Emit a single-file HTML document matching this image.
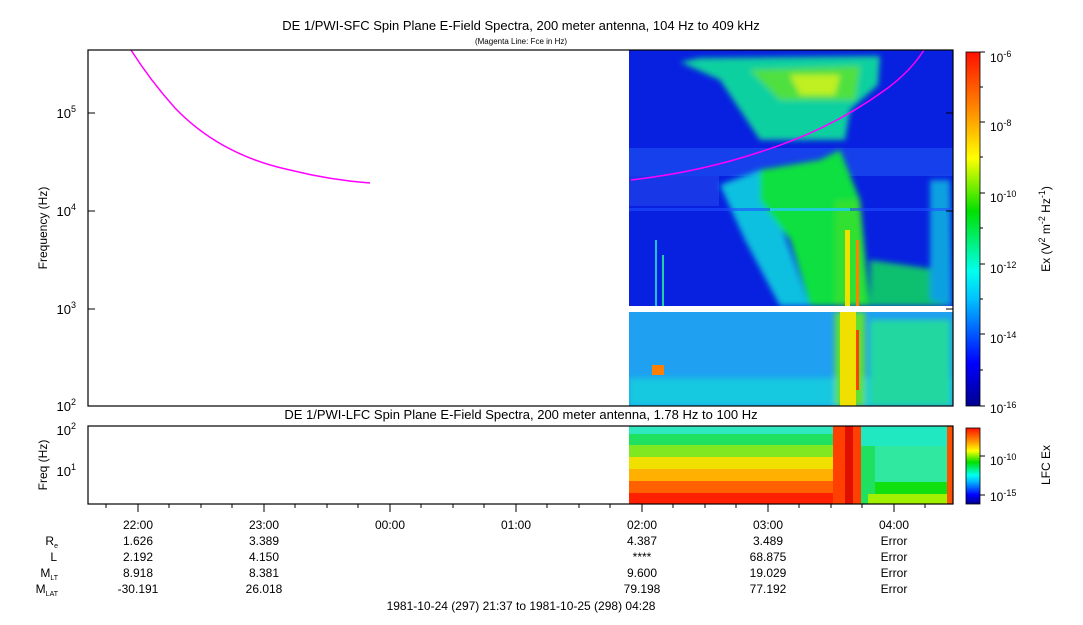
<!DOCTYPE html>
<html><head><meta charset="utf-8"><style>
body{margin:0;background:#fff;}
svg text{font-family:"Liberation Sans",sans-serif;fill:#000;}
</style></head><body>
<svg width="1083" height="620" viewBox="0 0 1083 620" xmlns="http://www.w3.org/2000/svg">
<defs>
<linearGradient id="jet" x1="0" y1="1" x2="0" y2="0">
<stop offset="0" stop-color="#00008f"/><stop offset="0.12" stop-color="#0000ff"/>
<stop offset="0.3" stop-color="#00bfff"/><stop offset="0.38" stop-color="#00ffef"/>
<stop offset="0.55" stop-color="#00e000"/><stop offset="0.7" stop-color="#ffff00"/>
<stop offset="0.85" stop-color="#ff8000"/><stop offset="1" stop-color="#ff1000"/>
</linearGradient>
<filter id="bl" x="-20%" y="-20%" width="140%" height="140%"><feGaussianBlur stdDeviation="3"/></filter>
<clipPath id="c1"><rect x="629" y="50" width="324" height="256"/></clipPath>
<clipPath id="c2"><rect x="629" y="312" width="324" height="94"/></clipPath>
<clipPath id="c3"><rect x="629" y="426" width="324" height="78"/></clipPath>
</defs>
<text x="521" y="30" font-size="13" text-anchor="middle">DE 1/PWI-SFC  Spin Plane E-Field Spectra, 200 meter antenna, 104 Hz to 409 kHz</text>
<text x="521" y="44" font-size="8" text-anchor="middle">(Magenta Line: Fce in Hz)</text>

<g clip-path="url(#c1)">
<rect x="629" y="50" width="324" height="256" fill="#0820e0"/>
<rect x="629" y="148" width="324" height="28" fill="#1a48ee" opacity="0.8"/>
<rect x="629" y="176" width="90" height="30" fill="#1838e8"/>
<g filter="url(#bl)">
<polygon points="680,62 700,58 880,56 878,85 850,110 845,140 760,140 740,110 720,80" fill="#10d0a0"/>
<polygon points="750,70 860,66 855,100 780,100" fill="#50e040"/>
<polygon points="790,75 840,75 835,95 800,95" fill="#c0f020"/>
<polygon points="720,185 760,170 790,250 810,306 780,306 745,240" fill="#10c0e0"/>
<polygon points="760,170 820,160 840,150 860,200 870,306 810,306 790,240 760,200" fill="#10e040"/>
<polygon points="835,200 860,200 865,306 835,306" fill="#30e030"/>
<polygon points="870,260 940,270 950,306 870,306" fill="#10c070"/>
<polygon points="930,180 950,180 952,306 930,300" fill="#10a0e0"/>
</g>
<rect x="845" y="230" width="5" height="76" fill="#f0e000"/>
<rect x="856" y="240" width="3" height="66" fill="#ff8000"/>
<rect x="629" y="208" width="324" height="3" fill="#2050ff" opacity="0.6"/>
<rect x="770" y="208" width="80" height="3" fill="#20d0d0"/>
<rect x="655" y="240" width="2" height="66" fill="#20c0e0"/>
<rect x="662" y="255" width="2" height="51" fill="#20d0a0"/>
</g>
<g clip-path="url(#c2)">
<rect x="629" y="312" width="324" height="94" fill="#20a0f0"/>
<g filter="url(#bl)">
<rect x="629" y="378" width="324" height="28" fill="#18c8e0"/>
<rect x="870" y="320" width="80" height="86" fill="#20d8a0"/>
<rect x="835" y="312" width="30" height="94" fill="#60e030"/>
</g>
<rect x="840" y="312" width="16" height="94" fill="#f0e000"/>
<rect x="856" y="330" width="3" height="60" fill="#ff4000"/>
<rect x="652" y="365" width="12" height="10" fill="#ff8000"/>
</g>
<rect x="629" y="306" width="324" height="6" fill="#fff"/>

<path d="M131,50 Q150,80 175,108 Q220,155 290,170 Q330,180 370,183" fill="none" stroke="#ff00ff" stroke-width="1.5"/>
<path d="M631,180 Q700,172 760,152 Q830,130 885,90 Q910,72 924,50" fill="none" stroke="#ff00ff" stroke-width="1.5"/>

<rect x="88" y="50" width="865" height="356" fill="none" stroke="#000" stroke-width="1.2"/>
<g font-size="13" text-anchor="end">
<text x="76" y="411">10<tspan font-size="9" dy="-6">2</tspan></text>
<text x="76" y="314">10<tspan font-size="9" dy="-6">3</tspan></text>
<text x="76" y="216">10<tspan font-size="9" dy="-6">4</tspan></text>
<text x="76" y="118">10<tspan font-size="9" dy="-6">5</tspan></text>
</g>
<g stroke="#000">
<line x1="88" y1="309" x2="95" y2="309"/><line x1="88" y1="211" x2="95" y2="211"/><line x1="88" y1="113" x2="95" y2="113"/>
<line x1="946" y1="309" x2="953" y2="309"/><line x1="946" y1="211" x2="953" y2="211"/><line x1="946" y1="113" x2="953" y2="113"/>
</g>
<text transform="translate(47,228) rotate(-90)" font-size="12" text-anchor="middle">Frequency (Hz)</text>

<text x="521" y="419" font-size="13" text-anchor="middle">DE 1/PWI-LFC  Spin Plane E-Field Spectra, 200 meter antenna, 1.78 Hz to 100 Hz</text>

<g clip-path="url(#c3)">
<rect x="629" y="426" width="324" height="78" fill="#20e060"/>
<rect x="629" y="426" width="324" height="8" fill="#30e8c0"/>
<rect x="629" y="445" width="215" height="12" fill="#80e820"/>
<rect x="629" y="457" width="215" height="12" fill="#f0e000"/>
<rect x="629" y="469" width="215" height="12" fill="#ffb000"/>
<rect x="629" y="481" width="215" height="12" fill="#ff6000"/>
<rect x="629" y="493" width="215" height="11" fill="#ff2000"/>
<rect x="833" y="426" width="28" height="78" fill="#ff4000"/>
<rect x="845" y="426" width="8" height="78" fill="#e01000"/>
<rect x="861" y="426" width="92" height="20" fill="#20e8c0"/>
<rect x="875" y="446" width="72" height="36" fill="#30e8a0"/>
<rect x="875" y="482" width="72" height="12" fill="#10e010"/>
<rect x="868" y="494" width="80" height="10" fill="#a0f000"/>
<rect x="947" y="426" width="6" height="78" fill="#ff5000"/>
</g>
<rect x="88" y="426" width="865" height="78" fill="none" stroke="#000" stroke-width="1.2"/>
<g font-size="13" text-anchor="end">
<text x="76" y="435">10<tspan font-size="9" dy="-6">2</tspan></text>
<text x="76" y="476">10<tspan font-size="9" dy="-6">1</tspan></text>
</g>
<text transform="translate(47,465) rotate(-90)" font-size="12" text-anchor="middle">Freq (Hz)</text>

<g stroke="#000">
<line x1="138" y1="504" x2="138" y2="512"/><line x1="264" y1="504" x2="264" y2="512"/>
<line x1="390" y1="504" x2="390" y2="512"/><line x1="516" y1="504" x2="516" y2="512"/>
<line x1="642" y1="504" x2="642" y2="512"/><line x1="768" y1="504" x2="768" y2="512"/>
<line x1="894" y1="504" x2="894" y2="512"/>
<line x1="106" y1="504" x2="106" y2="508"/><line x1="169" y1="504" x2="169" y2="508"/><line x1="201" y1="504" x2="201" y2="508"/><line x1="232" y1="504" x2="232" y2="508"/>
<line x1="295" y1="504" x2="295" y2="508"/><line x1="327" y1="504" x2="327" y2="508"/><line x1="358" y1="504" x2="358" y2="508"/>
<line x1="421" y1="504" x2="421" y2="508"/><line x1="453" y1="504" x2="453" y2="508"/><line x1="484" y1="504" x2="484" y2="508"/>
<line x1="547" y1="504" x2="547" y2="508"/><line x1="579" y1="504" x2="579" y2="508"/><line x1="610" y1="504" x2="610" y2="508"/>
<line x1="673" y1="504" x2="673" y2="508"/><line x1="705" y1="504" x2="705" y2="508"/><line x1="736" y1="504" x2="736" y2="508"/>
<line x1="799" y1="504" x2="799" y2="508"/><line x1="831" y1="504" x2="831" y2="508"/><line x1="862" y1="504" x2="862" y2="508"/>
<line x1="925" y1="504" x2="925" y2="508"/>
</g>
<g font-size="12" text-anchor="middle">
<text x="138" y="529">22:00</text><text x="264" y="529">23:00</text><text x="390" y="529">00:00</text>
<text x="516" y="529">01:00</text><text x="642" y="529">02:00</text><text x="768" y="529">03:00</text><text x="894" y="529">04:00</text>
<text x="138" y="545">1.626</text><text x="264" y="545">3.389</text><text x="642" y="545">4.387</text><text x="768" y="545">3.489</text><text x="894" y="545">Error</text>
<text x="138" y="561">2.192</text><text x="264" y="561">4.150</text><text x="642" y="561">****</text><text x="768" y="561">68.875</text><text x="894" y="561">Error</text>
<text x="138" y="577">8.918</text><text x="264" y="577">8.381</text><text x="642" y="577">9.600</text><text x="768" y="577">19.029</text><text x="894" y="577">Error</text>
<text x="138" y="593">-30.191</text><text x="264" y="593">26.018</text><text x="642" y="593">79.198</text><text x="768" y="593">77.192</text><text x="894" y="593">Error</text>
<text x="521" y="610">1981-10-24 (297) 21:37 to 1981-10-25 (298) 04:28</text>
</g>
<g font-size="12" text-anchor="end">
<text x="58" y="545">R<tspan font-size="7" dy="3">e</tspan></text>
<text x="57" y="561">L</text>
<text x="58" y="577">M<tspan font-size="7" dy="3">LT</tspan></text>
<text x="58" y="593">M<tspan font-size="7" dy="3">LAT</tspan></text>
</g>

<rect x="966" y="52" width="14" height="354" fill="url(#jet)" stroke="#000" stroke-width="0.8"/>
<rect x="966" y="428" width="14" height="76" fill="url(#jet)" stroke="#000" stroke-width="0.8"/>
<g stroke="#000">
<line x1="980" y1="52" x2="985" y2="52"/><line x1="980" y1="122" x2="985" y2="122"/><line x1="980" y1="193" x2="985" y2="193"/>
<line x1="980" y1="264" x2="985" y2="264"/><line x1="980" y1="334" x2="985" y2="334"/><line x1="980" y1="406" x2="985" y2="406"/>
<line x1="980" y1="87" x2="983" y2="87"/><line x1="980" y1="157" x2="983" y2="157"/><line x1="980" y1="228" x2="983" y2="228"/>
<line x1="980" y1="299" x2="983" y2="299"/><line x1="980" y1="370" x2="983" y2="370"/>
<line x1="980" y1="456" x2="985" y2="456"/><line x1="980" y1="495" x2="985" y2="495"/>
</g>
<g font-size="12">
<text x="990" y="62">10<tspan font-size="9" dy="-5">-6</tspan></text>
<text x="990" y="131">10<tspan font-size="9" dy="-5">-8</tspan></text>
<text x="990" y="202">10<tspan font-size="9" dy="-5">-10</tspan></text>
<text x="990" y="273">10<tspan font-size="9" dy="-5">-12</tspan></text>
<text x="990" y="343">10<tspan font-size="9" dy="-5">-14</tspan></text>
<text x="990" y="413">10<tspan font-size="9" dy="-5">-16</tspan></text>
<text x="990" y="465">10<tspan font-size="9" dy="-5">-10</tspan></text>
<text x="990" y="501">10<tspan font-size="9" dy="-5">-15</tspan></text>
</g>
<text transform="translate(1050,229) rotate(-90)" font-size="12" text-anchor="middle">Ex (V<tspan font-size="9" dy="-5">2</tspan><tspan dy="5"> m</tspan><tspan font-size="9" dy="-5">-2</tspan><tspan dy="5"> Hz</tspan><tspan font-size="9" dy="-5">-1</tspan><tspan dy="5">)</tspan></text>
<text transform="translate(1050,465) rotate(-90)" font-size="12" text-anchor="middle">LFC Ex</text>
</svg>
</body></html>
